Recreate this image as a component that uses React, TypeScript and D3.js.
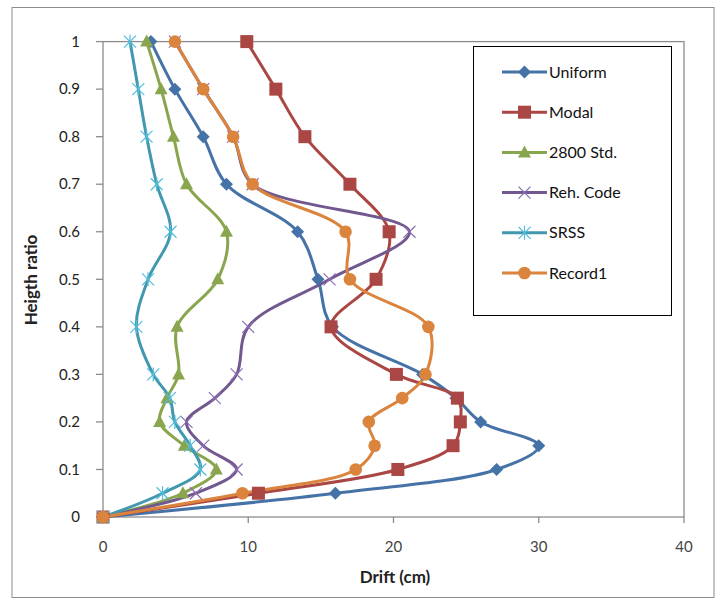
import * as d3 from 'd3';

const W = 720;
const H = 604;

// storey height ratios and drift (cm) per method
const heights = [0, 0.05, 0.1, 0.15, 0.2, 0.25, 0.3, 0.4, 0.5, 0.6, 0.7, 0.8, 0.9, 1];
const uniform = [0, 16, 27.1, 30, 26, 24.3, 22, 15.8, 14.8, 13.4, 8.5, 6.9, 4.95, 3.3];
const modal = [0, 10.7, 20.3, 24.1, 24.6, 24.4, 20.2, 15.7, 18.8, 19.7, 17, 13.9, 11.9, 9.9];
const std2800 = [0, 5.5, 7.8, 5.6, 3.9, 4.4, 5.2, 5.1, 7.9, 8.5, 5.75, 4.85, 4.0, 3.0];
const rehCode = [0, 6.4, 9.2, 6.9, 5.75, 7.7, 9.2, 10, 15.6, 21.1, 10.3, 8.96, 6.9, 4.95];
const srss = [0, 4.1, 6.7, 6.0, 4.95, 4.6, 3.46, 2.3, 3.1, 4.65, 3.7, 3.0, 2.43, 1.86];
const record1 = [0, 9.6, 17.4, 18.7, 18.3, 20.6, 22.2, 22.4, 17, 16.7, 10.3, 8.96, 6.9, 4.95];

const xTicks = [0, 10, 20, 30, 40];
const yTicks = [0, 0.1, 0.2, 0.3, 0.4, 0.5, 0.6, 0.7, 0.8, 0.9, 1];

type Marker = 'diamond' | 'square' | 'triangle' | 'x' | 'star' | 'circle';
const series: { name: string; values: number[]; color: string; marker: Marker }[] = [
  { name: 'Uniform', values: uniform, color: '#4572A7', marker: 'diamond' },
  { name: 'Modal', values: modal, color: '#AA4643', marker: 'square' },
  { name: '2800 Std.', values: std2800, color: '#89A54E', marker: 'triangle' },
  { name: 'Reh. Code', values: rehCode, color: '#71588F', marker: 'x' },
  { name: 'SRSS', values: srss, color: '#4198AF', marker: 'star' },
  { name: 'Record1', values: record1, color: '#DB843D', marker: 'circle' },
];

const x = d3.scaleLinear([0, 40], [103, 684]);
const y = d3.scaleLinear([0, 1], [517, 41.6]);

const font = 'Lato, "Open Sans", sans-serif';

function MarkerShape({ type, cx, cy, color }: { type: Marker; cx: number; cy: number; color: string }) {
  if (type === 'diamond') {
    const r = 6.5;
    return <path d={`M${cx},${cy - r}L${cx + r},${cy}L${cx},${cy + r}L${cx - r},${cy}Z`} fill={color} />;
  }
  if (type === 'square') {
    return <rect x={cx - 6.5} y={cy - 6.5} width={13} height={13} fill={color} />;
  }
  if (type === 'triangle') {
    return <path d={`M${cx},${cy - 7}L${cx + 6.5},${cy + 5}L${cx - 6.5},${cy + 5}Z`} fill={color} />;
  }
  if (type === 'circle') {
    return <circle cx={cx} cy={cy} r={6.3} fill={color} />;
  }
  const r = 6;
  const light = d3.color(color)!.brighter(0.6).formatHex();
  return (
    <g stroke={light} strokeWidth={1.2}>
      <line x1={cx - r} y1={cy - r} x2={cx + r} y2={cy + r} />
      <line x1={cx - r} y1={cy + r} x2={cx + r} y2={cy - r} />
      {type === 'star' && <line x1={cx} y1={cy - r - 1} x2={cx} y2={cy + r + 1} />}
    </g>
  );
}

export default function App() {
  const line = d3.line<number>()
    .x(d => x(d))
    .y((_, i) => y(heights[i]))
    .curve(d3.curveCatmullRom.alpha(0.5));

  return (
    <div style={{ position: 'absolute', left: 0, top: 0 }}>
      <svg width={W} height={H} style={{ display: 'block', background: '#fff' }}>
        <rect x={12} y={7.5} width={702} height={590} fill="#fff" stroke="#8c8c8c" />

        {/* plot area */}
        <rect x={x(0)} y={y(1)} width={x(40) - x(0)} height={y(0) - y(1)} fill="none" stroke="#8c8c8c" strokeWidth={1.3} />

        {yTicks.map(t => (
          <g key={t}>
            <line x1={x(0) - 7} x2={x(0)} y1={y(t)} y2={y(t)} stroke="#8c8c8c" strokeWidth={1.3} />
            <text x={80} y={y(t)} dy="0.35em" textAnchor="end" fontFamily={font} fontSize={15} fill="#222">
              {t}
            </text>
          </g>
        ))}
        {xTicks.map(t => (
          <g key={t}>
            <line x1={x(t)} x2={x(t)} y1={y(0)} y2={y(0) + 6} stroke="#8c8c8c" strokeWidth={1.3} />
            <text x={x(t)} y={552} textAnchor="middle" fontFamily={font} fontSize={15} fill="#444">
              {t}
            </text>
          </g>
        ))}

        <text x={395} y={583} textAnchor="middle" fontFamily={font} fontSize={17} fontWeight="bold" fill="#222">
          Drift (cm)
        </text>
        <text transform="translate(37,280) rotate(-90)" textAnchor="middle" fontFamily={font} fontSize={17} fontWeight="bold" fill="#222">
          Heigth ratio
        </text>

        {series.map(s => (
          <path key={s.name} d={line(s.values) ?? ''} fill="none" stroke={s.color} strokeWidth={3} strokeLinejoin="round" />
        ))}
        {series.map(s => (
          <g key={s.name + '-m'}>
            {s.values.map((v, i) => (
              <MarkerShape key={i} type={s.marker} cx={x(v)} cy={y(heights[i])} color={s.color} />
            ))}
          </g>
        ))}

        {/* legend */}
        <rect x={473.5} y={46.5} width={198} height={269} fill="#fff" stroke="#000" />
        {series.map((s, i) => {
          const ly = 72 + i * 40.2;
          return (
            <g key={s.name + '-l'}>
              <line x1={502} x2={547} y1={ly} y2={ly} stroke={s.color} strokeWidth={3} />
              <MarkerShape type={s.marker} cx={524.5} cy={ly} color={s.color} />
              <text x={549} y={ly} dy="0.35em" fontFamily={font} fontSize={16} fill="#111">
                {s.name}
              </text>
            </g>
          );
        })}
      </svg>
    </div>
  );
}
